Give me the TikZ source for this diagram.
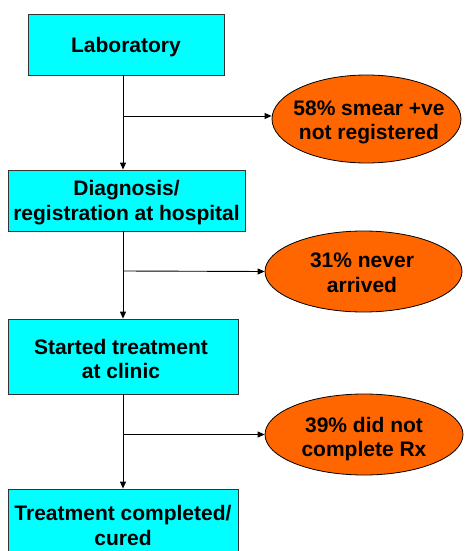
\documentclass[tikz,border=0pt]{standalone}
\usepackage{fontspec}
\setmainfont{Liberation Sans}
\usetikzlibrary{shapes.geometric,arrows.meta}
\definecolor{boxcyan}{HTML}{00FFFF}
\definecolor{ovalorange}{HTML}{FF6600}
\definecolor{boxedge}{HTML}{333333}
\begin{document}
\begin{tikzpicture}[x=1pt,y=-1pt,
  every node/.style={font=\bfseries\fontsize{21}{24.5}\selectfont, align=center, inner sep=0pt},
  stagebox/.style={draw=boxedge, line width=0.8pt, fill=boxcyan, rectangle},
  lossoval/.style={draw=black, line width=0.8pt, fill=ovalorange, ellipse},
  arr/.style={draw=black, line width=0.9pt, -{Triangle[length=7pt,width=6pt]}}]
\useasboundingbox (0,0) rectangle (464,551);
\clip (0,0) rectangle (464,551);
\fill[white] (0,0) rectangle (464,551);

\node[stagebox, minimum width=196pt, minimum height=61pt] (lab) at (126,44.5) {};
\node (labt) at (126,47.5) {Laboratory};
\node[stagebox, minimum width=237pt, minimum height=61pt] (diag) at (126.5,200.5) {};
\node (diagt) at (126.5,202.5) {Diagnosis/\\registration at hospital};
\node[stagebox, minimum width=230pt, minimum height=75pt] (start) at (123,356.5) {};
\node (startt) at (121,358.8) {Started treatment\\ at clinic};
\node[stagebox, minimum width=230pt, minimum height=75pt] (done) at (123,526.5) {};
\node (donet) at (123,525.5) {Treatment completed/\\cured};

\node[lossoval, minimum width=189pt, minimum height=88pt] (l1) at (366.5,119) {};
\node (l1t) at (369,122.5) {58\% smear +ve\\ not registered};
\node[lossoval, minimum width=197pt, minimum height=81pt] (l2) at (363.5,271.5) {};
\node (l2t) at (362,273) {31\% never\\ arrived};
\node[lossoval, minimum width=198pt, minimum height=81pt] (l3) at (364,434.5) {};
\node (l3t) at (364,439) {39\% did not\\complete Rx};

\coordinate (t1) at (123,75);
\coordinate (t2) at (123,231);
\coordinate (t3) at (123,394);
\coordinate (b1) at (123,116);
\coordinate (b2) at (123,271);
\coordinate (b3) at (123,434.5);

\draw[arr] (t1) -- (t1 |- diag.north);
\draw[arr] (t2) -- (t2 |- start.north);
\draw[arr] (t3) -- (t3 |- done.north);
\draw[arr] (b1) -- (l1.west |- b1);
\draw[arr] (b2) -- (l2.west);
\draw[arr] (b3) -- (l3.west);
\end{tikzpicture}
\end{document}
